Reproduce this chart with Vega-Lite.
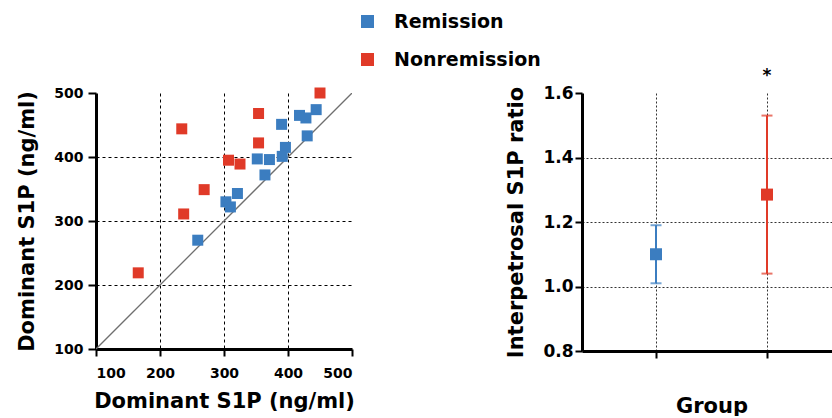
{
  "$schema": "https://vega.github.io/schema/vega-lite/v6.json",
  "padding": {"left": 16, "top": 12, "right": 0, "bottom": 0},
  "background": "white",
  "bounds": "flush",
  "spacing": 230,
  "datasets": {
    "scatter": [
      {"group": "Remission", "x": 444, "y": 474},
      {"group": "Remission", "x": 418, "y": 465},
      {"group": "Remission", "x": 428, "y": 461},
      {"group": "Remission", "x": 390, "y": 451},
      {"group": "Remission", "x": 430, "y": 433},
      {"group": "Remission", "x": 396, "y": 415},
      {"group": "Remission", "x": 391, "y": 401},
      {"group": "Remission", "x": 352, "y": 397},
      {"group": "Remission", "x": 371, "y": 396},
      {"group": "Remission", "x": 364, "y": 372},
      {"group": "Remission", "x": 321, "y": 343},
      {"group": "Remission", "x": 303, "y": 330},
      {"group": "Remission", "x": 310, "y": 322},
      {"group": "Remission", "x": 259, "y": 270},
      {"group": "Nonremission", "x": 450, "y": 500},
      {"group": "Nonremission", "x": 354, "y": 468},
      {"group": "Nonremission", "x": 234, "y": 444},
      {"group": "Nonremission", "x": 354, "y": 422},
      {"group": "Nonremission", "x": 307, "y": 395},
      {"group": "Nonremission", "x": 325, "y": 389},
      {"group": "Nonremission", "x": 269, "y": 349},
      {"group": "Nonremission", "x": 237, "y": 311},
      {"group": "Nonremission", "x": 166, "y": 219}
    ],
    "diag": [
      {"x": 100, "y": 100},
      {"x": 500, "y": 500}
    ],
    "summary": [
      {"group": "Remission", "mean": 1.10, "lo": 1.01, "hi": 1.19, "sig": ""},
      {"group": "Nonremission", "mean": 1.285, "lo": 1.04, "hi": 1.53, "sig": "*"}
    ]
  },
  "hconcat": [
    {
      "width": 256,
      "height": 256,
      "layer": [
        {
          "data": {"name": "diag"},
          "mark": {"type": "line", "color": "#6f6f6f", "strokeWidth": 1.3, "clip": true},
          "encoding": {
            "x": {"field": "x", "type": "quantitative"},
            "y": {"field": "y", "type": "quantitative"}
          }
        },
        {
          "data": {"name": "scatter"},
          "mark": {"type": "point", "shape": "square", "filled": true, "size": 121, "opacity": 1},
          "encoding": {
            "x": {
              "field": "x", "type": "quantitative",
              "scale": {"domain": [100, 500], "nice": false, "zero": false},
              "axis": {
                "title": "Dominant S1P (ng/ml)",
                "values": [100, 200, 300, 400, 500],
                "grid": true,
                "gridDash": [3, 3],
                "gridColor": "#000000",
                "gridWidth": 1,
                "gridOpacity": {"condition": {"test": "datum.value === 100 || datum.value === 500", "value": 0}, "value": 1},
                "labelPadding": 10,
                "titlePadding": 10
              }
            },
            "y": {
              "field": "y", "type": "quantitative",
              "scale": {"domain": [100, 500], "nice": false, "zero": false},
              "axis": {
                "title": "Dominant S1P (ng/ml)",
                "values": [100, 200, 300, 400, 500],
                "grid": true,
                "gridDash": [3, 3],
                "gridColor": "#000000",
                "gridWidth": 1,
                "gridOpacity": {"condition": {"test": "datum.value === 100 || datum.value === 500", "value": 0}, "value": 1},
                "tickSize": 8,
                "labelPadding": 5,
                "titlePadding": 16
              }
            },
            "color": {
              "field": "group", "type": "nominal",
              "scale": {"domain": ["Remission", "Nonremission"], "range": ["#3b7dc0", "#e03a28"]},
              "legend": {
                "title": null,
                "orient": "none",
                "legendX": 262,
                "legendY": -81,
                "direction": "vertical",
                "symbolType": "square",
                "symbolSize": 169,
                "symbolStrokeWidth": 0,
                "labelFont": "DejaVu Sans",
                "labelFontWeight": "bold",
                "labelFontSize": 19,
                "labelColor": "#000000",
                "labelOffset": 17,
                "rowPadding": 18,
                "padding": 0
              }
            }
          }
        }
      ]
    },
    {
      "width": 259,
      "height": 258,
      "data": {"name": "summary"},
      "encoding": {
        "x": {
          "field": "group", "type": "nominal",
          "sort": ["Remission", "Nonremission"],
          "scale": {"type": "point", "padding": 0.667},
          "axis": {
            "title": "Group",
            "labels": false,
            "grid": true,
            "gridDash": [2, 2],
            "gridColor": "#333333",
            "gridWidth": 1,
            "titlePadding": 36
          }
        }
      },
      "layer": [
        {
          "mark": {"type": "rule", "strokeWidth": 2},
          "encoding": {
            "y": {"field": "lo", "type": "quantitative"},
            "y2": {"field": "hi"},
            "color": {"condition": {"test": "datum.group === 'Remission'", "value": "#3b7dc0"}, "value": "#e03a28"}
          }
        },
        {
          "mark": {"type": "tick", "size": 11, "thickness": 2},
          "encoding": {
            "y": {"field": "lo", "type": "quantitative"},
            "color": {"condition": {"test": "datum.group === 'Remission'", "value": "#3b7dc0"}, "value": "#e03a28"}
          }
        },
        {
          "mark": {"type": "tick", "size": 11, "thickness": 2},
          "encoding": {
            "y": {"field": "hi", "type": "quantitative"},
            "color": {"condition": {"test": "datum.group === 'Remission'", "value": "#3b7dc0"}, "value": "#e03a28"}
          }
        },
        {
          "mark": {"type": "point", "shape": "square", "filled": true, "size": 144, "opacity": 1},
          "encoding": {
            "y": {
              "field": "mean", "type": "quantitative",
              "scale": {"domain": [0.8, 1.6], "nice": false, "zero": false},
              "axis": {
                "title": "Interpetrosal S1P ratio",
                "values": [0.8, 1.0, 1.2, 1.4, 1.6],
                "format": ".1f",
                "grid": true,
                "gridDash": [2, 2],
                "gridColor": "#333333",
                "gridWidth": 1,
                "gridOpacity": {"condition": {"test": "datum.value < 0.85 || datum.value > 1.55", "value": 0}, "value": 1},
                "labelFontSize": 17,
                "labelPadding": 2,
                "titlePadding": 16
              }
            },
            "color": {"condition": {"test": "datum.group === 'Remission'", "value": "#3b7dc0"}, "value": "#e03a28"}
          }
        },
        {
          "mark": {"type": "text", "font": "DejaVu Sans", "fontWeight": "bold", "fontSize": 17, "baseline": "alphabetic", "dy": -35, "color": "#000000"},
          "encoding": {
            "y": {"field": "hi", "type": "quantitative"},
            "text": {"field": "sig"}
          }
        }
      ]
    }
  ],
  "config": {
    "view": {"stroke": null},
    "axis": {
      "domainColor": "#000000",
      "domainWidth": 3,
      "tickColor": "#000000",
      "tickWidth": 2,
      "tickSize": 7,
      "labelFont": "DejaVu Sans",
      "labelFontWeight": "bold",
      "labelFontSize": 14,
      "labelColor": "#000000",
      "titleFont": "DejaVu Sans",
      "titleFontWeight": "bold",
      "titleFontSize": 21,
      "titleColor": "#000000"
    }
  }
}
